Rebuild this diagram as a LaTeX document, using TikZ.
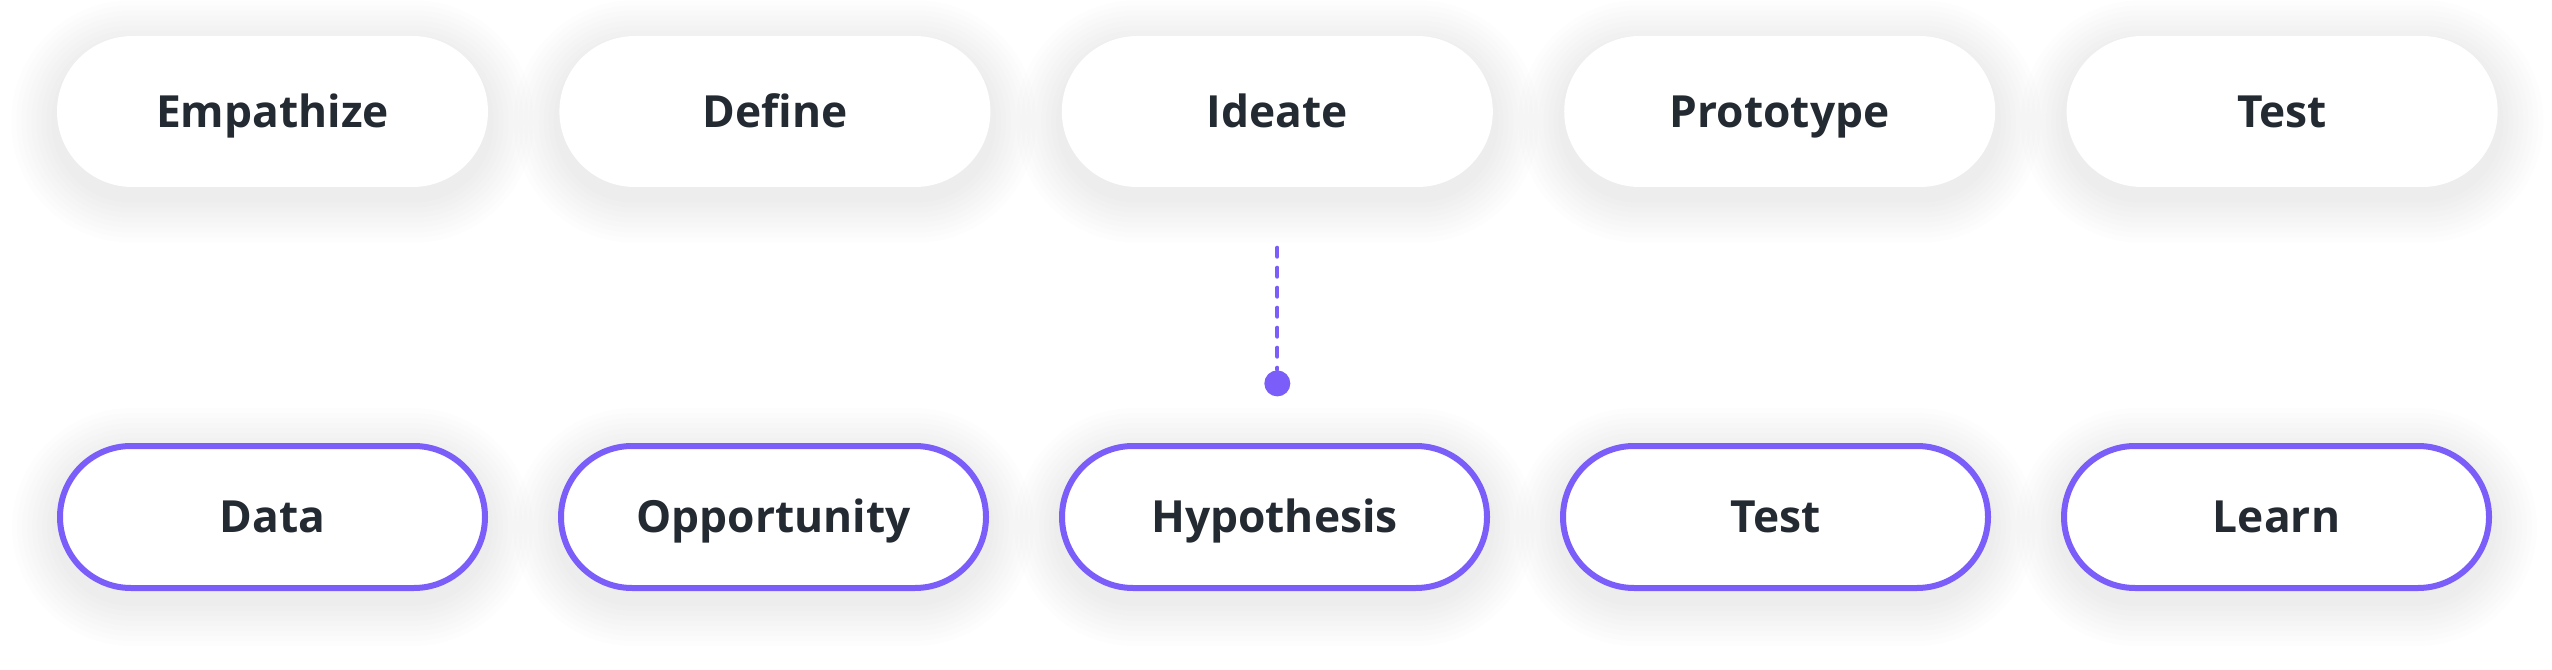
\documentclass[tikz,border=0pt]{standalone}
\usepackage{fontspec}
\setmainfont{Open Sans}
\usetikzlibrary{positioning,backgrounds}
\definecolor{ink}{HTML}{232A31}
\definecolor{violet}{HTML}{7B5EFA}

\begin{document}
\begin{tikzpicture}[
        phase/.style={rectangle, fill=white, inner sep=0pt, minimum width=4.31cm, minimum height=1.51cm,
            rounded corners=0.755cm, text height=9pt, text depth=0pt,
            font=\fontsize{12.6}{15}\selectfont\bfseries, text=ink},
        loopstep/.style={phase, draw=violet, line width=0.06cm, minimum width=4.25cm, minimum height=1.42cm,
            rounded corners=0.71cm},
        pin/.style={circle, fill=violet, inner sep=0pt, minimum size=0.26cm},
        node distance=0.70cm]
        \useasboundingbox (0,0) rectangle (25.52,-6.70);
        \node[phase] (empathize) at (2.725,-1.115) {Empathize};
        \node[phase, right=of empathize] (define) {Define};
        \node[phase, right=of define] (ideate) {Ideate};
        \node[phase, right=of ideate] (prototype) {Prototype};
        \node[phase, right=of prototype] (test) {Test};
        \node[loopstep] (data) at (2.725,-5.17) {Data};
        \node[loopstep, right=of data] (opportunity) {Opportunity};
        \node[loopstep, right=of opportunity] (hypothesis) {Hypothesis};
        \node[loopstep, right=of hypothesis] (trial) {Test};
        \node[loopstep, right=of trial] (learn) {Learn};
        \node[pin, below=1.82cm of ideate.south] (dot) {};
        \coordinate[below=0.60cm of ideate.south] (dashtop);
        \draw[violet, line width=0.04cm, line cap=round, dash pattern=on 0.09cm off 0.11cm] (dashtop) -- (dot);
        \begin{scope}[on background layer]
            \fill[white] (0,0) rectangle (25.52,-6.70);
            \foreach \n in {empathize,define,ideate,prototype,test,data,opportunity,hypothesis,trial,learn}
                \foreach \s in {0.05,0.10,...,0.50} {
                    \pgfmathsetmacro\r{0.75+\s}
                    \fill[black, opacity=0.006, rounded corners=\r cm]
                        ([shift={(-\s,-\s-0.10)}]\n.south west) rectangle ([shift={(\s,\s-0.10)}]\n.north east);
                }
        \end{scope}
    \end{tikzpicture}
\end{document}
